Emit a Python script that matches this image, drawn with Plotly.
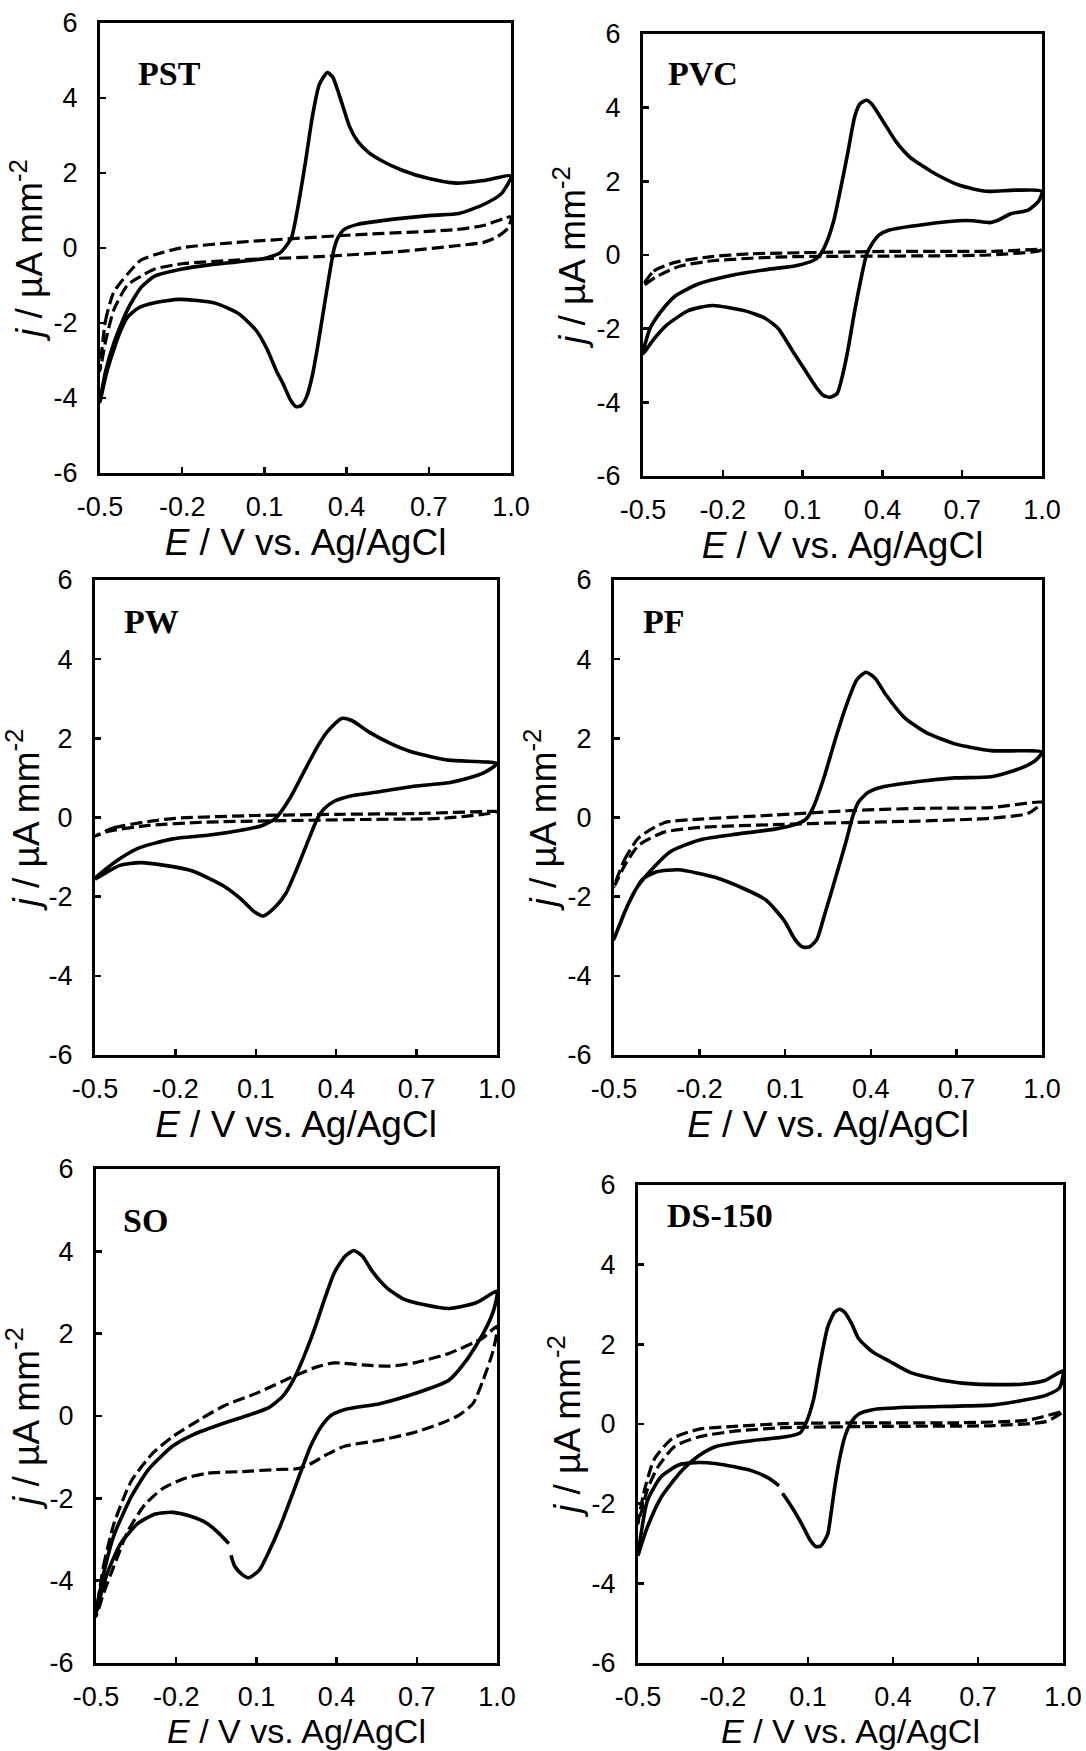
import plotly.graph_objects as go

# ---------------- data (E in V vs Ag/AgCl, j in uA mm^-2) ----------------
X_TICKS = [-0.5, -0.2, 0.1, 0.4, 0.7, 1.0]
X_TICK_LABELS = ["-0.5", "-0.2", "0.1", "0.4", "0.7", "1.0"]
Y_TICKS = [-6, -4, -2, 0, 2, 4, 6]
Y_TICK_LABELS = ["-6", "-4", "-2", "0", "2", "4", "6"]
PANEL_NAMES = ["PST", "PVC", "PW", "PF", "SO", "DS-150"]

PST_SOLID_E = [-0.5, -0.48, -0.45, -0.4, -0.35, -0.3, -0.2, -0.1, 0.0, 0.1, 0.157, 0.18, 0.2, 0.22, 0.25, 0.275, 0.3, 0.33, 0.35, 0.37, 0.39, 0.41, 0.44, 0.48, 0.53, 0.6, 0.7, 0.8, 0.9, 1.0,
               0.965, 0.9, 0.81, 0.71, 0.53, 0.44, 0.39, 0.37, 0.355, 0.335, 0.315, 0.295, 0.275, 0.255, 0.235, 0.215, 0.195, 0.17, 0.144, 0.11, 0.07, 0.006, -0.08, -0.21, -0.3, -0.36, -0.4, -0.43, -0.475, -0.5]
PST_SOLID_J = [-4.1, -3.3, -2.55, -1.65, -1.05, -0.75, -0.56, -0.45, -0.37, -0.28, -0.13, 0.06, 0.3, 1.0, 2.3, 3.5, 4.35, 4.68, 4.55, 4.15, 3.7, 3.25, 2.85, 2.55, 2.32, 2.08, 1.85, 1.73, 1.8, 1.92,
               1.45, 1.16, 0.92, 0.87, 0.73, 0.63, 0.49, 0.3, 0.0, -0.8, -1.7, -2.6, -3.4, -3.95, -4.2, -4.23, -4.05, -3.65, -3.28, -2.7, -2.2, -1.75, -1.47, -1.37, -1.46, -1.6, -1.85, -2.3, -3.3, -4.1]
PST_BLANK_E = [-0.5, -0.48, -0.45, -0.4, -0.35, -0.3, -0.2, 0.0, 0.4, 0.8, 0.9, 1.0,
               0.99, 0.95, 0.9, 0.8, 0.6, 0.3, 0.0, -0.2, -0.3, -0.35, -0.4, -0.45, -0.48, -0.5]
PST_BLANK_J = [-3.28, -1.94, -1.18, -0.7, -0.32, -0.18, 0.01, 0.15, 0.34, 0.49, 0.6, 0.83,
               0.54, 0.3, 0.15, 0.06, -0.09, -0.23, -0.32, -0.42, -0.56, -0.75, -0.99, -1.66, -2.5, -3.28]

PVC_SOLID_E = [-0.5, -0.474, -0.435, -0.38, -0.29, -0.16, -0.03, 0.074, 0.14, 0.165, 0.19, 0.217, 0.243, 0.27, 0.296, 0.315, 0.34, 0.36, 0.4, 0.452, 0.5, 0.55, 0.6, 0.687, 0.79, 0.896, 1.0,
               0.987, 0.948, 0.883, 0.83, 0.804, 0.74, 0.687, 0.557, 0.426, 0.387, 0.36, 0.34, 0.32, 0.296, 0.27, 0.25, 0.23, 0.204, 0.178, 0.152, 0.113, 0.061, 0.009, -0.043, -0.12, -0.24, -0.33, -0.41, -0.46, -0.5]
PVC_SOLID_J = [-2.68, -2.0, -1.56, -1.12, -0.78, -0.54, -0.39, -0.29, -0.15, 0.0, 0.34, 0.93, 1.8, 2.78, 3.76, 4.1, 4.2, 4.1, 3.66, 3.07, 2.68, 2.42, 2.2, 1.9, 1.73, 1.76, 1.73,
               1.46, 1.22, 1.12, 0.93, 0.88, 0.93, 0.93, 0.83, 0.68, 0.54, 0.29, 0.0, -0.63, -1.51, -2.59, -3.27, -3.76, -3.86, -3.81, -3.6, -3.17, -2.59, -2.0, -1.71, -1.51, -1.37, -1.51, -1.9, -2.29, -2.68]
PVC_BLANK_E = [-0.5, -0.46, -0.38, -0.25, -0.1, 0.165, 0.426, 0.817, 1.0,
               0.98, 0.8, 0.43, 0.035, -0.23, -0.36, -0.45, -0.5]
PVC_BLANK_J = [-0.83, -0.44, -0.2, -0.05, 0.03, 0.07, 0.1, 0.1, 0.15,
               0.1, 0.0, -0.03, -0.05, -0.15, -0.3, -0.59, -0.83]

PW_SOLID_E = [-0.5, -0.433, -0.34, -0.21, -0.08, 0.045, 0.122, 0.174, 0.225, 0.277, 0.33, 0.367, 0.42, 0.458, 0.52, 0.6, 0.69, 0.82, 1.0,
              0.948, 0.884, 0.82, 0.69, 0.56, 0.458, 0.393, 0.355, 0.33, 0.29, 0.25, 0.212, 0.174, 0.128, 0.096, 0.045, -0.02, -0.136, -0.24, -0.33, -0.407, -0.47, -0.5]
PW_SOLID_J = [-1.53, -1.16, -0.78, -0.54, -0.45, -0.32, -0.21, -0.02, 0.46, 1.12, 1.79, 2.17, 2.5, 2.45, 2.17, 1.88, 1.64, 1.45, 1.36,
              1.12, 0.98, 0.88, 0.79, 0.65, 0.55, 0.41, 0.22, -0.02, -0.68, -1.35, -1.92, -2.25, -2.49, -2.39, -2.06, -1.73, -1.35, -1.21, -1.14, -1.21, -1.44, -1.56]
PW_BLANK_E = [-0.5, -0.43, -0.3, -0.2, 0.1, 0.4, 0.7, 1.0,
              0.97, 0.8, 0.5, 0.2, -0.1, -0.3, -0.45, -0.5]
PW_BLANK_J = [-0.47, -0.26, -0.1, -0.02, 0.05, 0.08, 0.1, 0.15,
              0.1, -0.02, -0.05, -0.08, -0.12, -0.2, -0.35, -0.47]

PF_SOLID_E = [-0.5, -0.464, -0.426, -0.375, -0.3, -0.197, -0.07, 0.058, 0.134, 0.173, 0.198, 0.236, 0.275, 0.313, 0.351, 0.383, 0.415, 0.453, 0.517, 0.593, 0.695, 0.822, 1.0,
              0.975, 0.924, 0.822, 0.695, 0.567, 0.44, 0.39, 0.357, 0.338, 0.313, 0.275, 0.236, 0.211, 0.185, 0.16, 0.134, 0.096, 0.032, -0.044, -0.146, -0.273, -0.35, -0.4, -0.452, -0.5]
PF_SOLID_J = [-3.07, -2.41, -1.84, -1.37, -0.85, -0.56, -0.42, -0.3, -0.18, -0.04, 0.25, 1.01, 1.96, 2.81, 3.48, 3.67, 3.52, 3.1, 2.53, 2.15, 1.86, 1.69, 1.65,
              1.43, 1.24, 1.03, 1.0, 0.91, 0.77, 0.63, 0.39, 0.06, -0.61, -1.56, -2.51, -3.08, -3.27, -3.27, -3.08, -2.6, -2.08, -1.8, -1.51, -1.32, -1.37, -1.56, -2.22, -3.07]
PF_BLANK_E = [-0.5, -0.464, -0.413, -0.324, -0.197, 0.058, 0.313, 0.567, 0.82, 1.0,
              0.99, 0.95, 0.82, 0.567, 0.313, 0.058, -0.197, -0.324, -0.413, -0.464, -0.5]
PF_BLANK_J = [-1.75, -1.08, -0.51, -0.13, -0.04, 0.06, 0.17, 0.23, 0.25, 0.39,
              0.3, 0.1, -0.02, -0.09, -0.13, -0.18, -0.25, -0.37, -0.7, -1.23, -1.75]

SO_SOLID_E = [-0.5, -0.472, -0.433, -0.368, -0.304, -0.213, -0.136, -0.02, 0.07, 0.148, 0.2, 0.238, 0.277, 0.316, 0.355, 0.393, 0.432, 0.464, 0.497, 0.535, 0.587, 0.651, 0.729, 0.82, 0.922, 1.0,
              0.987, 0.948, 0.884, 0.82, 0.69, 0.561, 0.432, 0.38, 0.342, 0.303, 0.264, 0.226, 0.187, 0.148, 0.11, 0.07, 0.045, 0.019, 0.005, None,
              -0.003, -0.04, -0.084, -0.149, -0.213, -0.278, -0.343, -0.407, -0.459, -0.5]
SO_SOLID_J = [-4.78, -3.84, -2.9, -1.96, -1.3, -0.73, -0.45, -0.17, 0.02, 0.21, 0.49, 0.87, 1.43, 2.09, 2.84, 3.5, 3.88, 4.02, 3.88, 3.5, 3.12, 2.84, 2.7, 2.61, 2.75, 3.03,
              2.56, 2.0, 1.34, 0.87, 0.54, 0.3, 0.16, 0.02, -0.26, -0.73, -1.39, -2.05, -2.71, -3.28, -3.75, -3.93, -3.84, -3.65, -3.38, None,
              -3.1, -2.85, -2.61, -2.43, -2.34, -2.38, -2.61, -3.09, -3.84, -4.78]
SO_BLANK_E = [-0.5, -0.472, -0.433, -0.368, -0.29, -0.213, -0.11, -0.02, 0.11, 0.238, 0.329, 0.393, 0.497, 0.6, 0.69, 0.82, 0.948, 1.0,
              0.987, 0.948, 0.91, 0.858, 0.794, 0.69, 0.561, 0.432, 0.368, 0.303, 0.252, 0.174, 0.045, -0.084, -0.175, -0.252, -0.317, -0.381, -0.433, -0.472, -0.5]
SO_BLANK_J = [-4.87, -3.65, -2.62, -1.58, -0.92, -0.5, -0.08, 0.25, 0.58, 0.96, 1.2, 1.29, 1.24, 1.21, 1.29, 1.52, 1.9, 2.18,
              1.62, 0.87, 0.3, 0.02, -0.17, -0.4, -0.59, -0.73, -0.92, -1.16, -1.28, -1.3, -1.35, -1.39, -1.53, -1.77, -2.15, -2.8, -3.65, -4.31, -4.87]

DS_SOLID_E = [-0.5, -0.467, -0.418, -0.345, -0.284, -0.222, -0.1, 0.022, 0.071, 0.095, 0.12, 0.144, 0.169, 0.193, 0.211, 0.23, 0.254, 0.279, 0.328, 0.389, 0.462, 0.572, 0.694, 0.853, 0.939, 1.0,
              0.988, 0.939, 0.878, 0.755, 0.633, 0.45, 0.328, 0.279, 0.254, 0.23, 0.211, 0.193, 0.18, 0.169, 0.144, 0.126, 0.108, 0.077, 0.046, 0.01, None,
              -0.002, -0.039, -0.1, -0.222, -0.296, -0.357, -0.418, -0.467, -0.5]
DS_SOLID_J = [-3.3, -2.59, -1.84, -1.17, -0.79, -0.56, -0.42, -0.32, -0.23, 0.06, 0.63, 1.57, 2.42, 2.8, 2.88, 2.8, 2.52, 2.14, 1.81, 1.57, 1.29, 1.1, 1.0, 1.0, 1.1, 1.33,
              0.91, 0.72, 0.62, 0.48, 0.45, 0.42, 0.36, 0.25, 0.06, -0.32, -0.89, -1.65, -2.31, -2.78, -3.07, -3.07, -2.92, -2.5, -2.12, -1.74, None,
              -1.55, -1.36, -1.17, -1.0, -0.97, -1.03, -1.32, -1.93, -3.3]
DS_BLANK_E = [-0.5, -0.48, -0.443, -0.38, -0.284, -0.16, 0.022, 0.266, 0.633, 0.878, 1.0,
              0.99, 0.939, 0.755, 0.389, 0.022, -0.16, -0.284, -0.37, -0.43, -0.467, -0.485, -0.5]
DS_BLANK_J = [-2.5, -1.74, -0.89, -0.37, -0.13, -0.06, 0.01, 0.03, 0.03, 0.1, 0.31,
              0.25, 0.06, -0.04, -0.06, -0.09, -0.18, -0.32, -0.56, -1.08, -1.65, -2.12, -2.5]

SOLID_E = [PST_SOLID_E, PVC_SOLID_E, PW_SOLID_E, PF_SOLID_E, SO_SOLID_E, DS_SOLID_E]
SOLID_J = [PST_SOLID_J, PVC_SOLID_J, PW_SOLID_J, PF_SOLID_J, SO_SOLID_J, DS_SOLID_J]
BLANK_E = [PST_BLANK_E, PVC_BLANK_E, PW_BLANK_E, PF_BLANK_E, SO_BLANK_E, DS_BLANK_E]
BLANK_J = [PST_BLANK_J, PVC_BLANK_J, PW_BLANK_J, PF_BLANK_J, SO_BLANK_J, DS_BLANK_J]

# ---------------- layout (pixel boxes: left, right, top, bottom) ----------------
W, H = 1086, 1751
BOXES = [(100, 511, 23, 473), (643, 1042, 34, 476),
         (95, 497, 580, 1055), (614, 1042, 580, 1055),
         (96, 497, 1169, 1663), (638, 1063, 1185, 1663)]
LABEL_POS = [(136, 74), (666, 74), (122, 621), (641, 621), (121, 1220), (665, 1215)]
BOTTOM_ROW = [False, False, False, False, True, True]

SANS = "Liberation Sans, Arial, sans-serif"
SERIF = "Liberation Serif, Times New Roman, serif"

fig = go.Figure()
layout = dict(width=W, height=H, margin=dict(l=0, r=0, t=0, b=0),
              paper_bgcolor="white", plot_bgcolor="white", showlegend=False)
annotations = []

for i in range(6):
    l, r, t, b = BOXES[i]
    sfx = "" if i == 0 else str(i + 1)
    xa, ya = "x" + sfx, "y" + sfx
    fig.add_trace(go.Scatter(x=BLANK_E[i], y=BLANK_J[i], mode="lines", xaxis=xa, yaxis=ya,
                             line=dict(color="black", width=3.2, dash="12px,5px", shape="spline", smoothing=0.6),
                             connectgaps=False, hoverinfo="skip"))
    fig.add_trace(go.Scatter(x=SOLID_E[i], y=SOLID_J[i], mode="lines", xaxis=xa, yaxis=ya,
                             line=dict(color="black", width=3.6, shape="spline", smoothing=0.6),
                             connectgaps=False, hoverinfo="skip"))
    common = dict(showline=True, linecolor="black", linewidth=3, mirror=True,
                  ticks="inside", ticklen=6, tickwidth=2.5, tickcolor="black",
                  showgrid=False, zeroline=False, automargin=False,
                  tickfont=dict(family=SANS, size=27, color="black"))
    tsize = 34 if BOTTOM_ROW[i] else 37
    layout["xaxis" + sfx] = dict(common, domain=[l / W, r / W], anchor=ya,
                                 range=[-0.5, 1.0], tickvals=X_TICKS, ticktext=X_TICK_LABELS,
                                 ticklabelstandoff=8 if BOTTOM_ROW[i] else 8,
                                 title=dict(text="<i>E</i> / V vs. Ag/AgCl", standoff=0,
                                            font=dict(family=SANS, size=tsize, color="black")))
    layout["yaxis" + sfx] = dict(common, domain=[1 - b / H, 1 - t / H], anchor=xa,
                                 range=[-6, 6], tickvals=Y_TICKS, ticktext=Y_TICK_LABELS,
                                 ticklabelstandoff=14,
                                 title=dict(text="<i>j</i> / µA mm<sup>-2</sup>", standoff=0,
                                            font=dict(family=SANS, size=37, color="black")))
    lx, ly = LABEL_POS[i]
    annotations.append(dict(text="<b>" + PANEL_NAMES[i] + "</b>", xref="paper", yref="paper",
                            x=lx / W, y=1 - ly / H, xanchor="left", yanchor="middle",
                            showarrow=False, font=dict(family=SERIF, size=34, color="black")))

layout["annotations"] = annotations
fig.update_layout(**layout)
fig.write_html("out.html", config={"displayModeBar": False, "staticPlot": True},
               post_script="document.body.style.margin='0';document.body.style.padding='0';"
                           "document.documentElement.style.overflow='hidden';")
